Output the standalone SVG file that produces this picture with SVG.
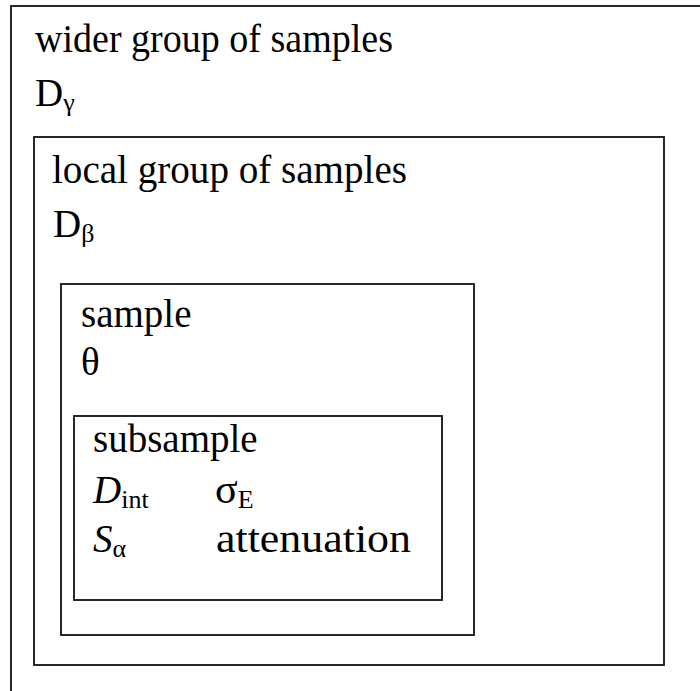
<svg xmlns="http://www.w3.org/2000/svg" width="700" height="691" viewBox="0 0 700 691">
  <style>
    .box { fill: none; stroke: #111; stroke-width: 1.8; }
    .sub { font-size: 26px; }
    .it { font-style: italic; }
    .sym { font-size: 42px; }
  </style>
  <rect width="700" height="691" fill="#fff"/>

  <g font-family="Liberation Serif, Times New Roman, serif" font-size="39" fill="#000">
    <!-- outermost level: wider group of samples -->
    <g id="wider-group">
      <rect class="box" x="11" y="6" width="700" height="700"/>
      <text x="35" y="52" textLength="358" lengthAdjust="spacingAndGlyphs">wider group of samples</text>
      <text x="35" y="106">D<tspan class="sub" dy="5">γ</tspan></text>
    </g>

    <!-- local group of samples -->
    <g id="local-group">
      <rect class="box" x="34" y="137" width="630" height="528"/>
      <text x="52" y="183" textLength="355" lengthAdjust="spacingAndGlyphs">local group of samples</text>
      <text x="53" y="237">D<tspan class="sub" dy="5">β</tspan></text>
    </g>

    <!-- sample -->
    <g id="sample">
      <rect class="box" x="61" y="284" width="413" height="351"/>
      <text x="81" y="327">sample</text>
      <text x="81" y="375">θ</text>
    </g>

    <!-- subsample -->
    <g id="subsample">
      <rect class="box" x="74" y="416" width="368" height="184"/>
      <text x="93" y="452">subsample</text>
      <text x="93" y="503"><tspan class="it">D</tspan><tspan class="sub" dy="5">int</tspan></text>
      <text x="215" y="503"><tspan class="sym">σ</tspan><tspan class="sub" dy="5">E</tspan></text>
      <text x="93" y="552"><tspan class="it">S</tspan><tspan class="sub" dy="5">α</tspan></text>
      <text x="216" y="552" textLength="195" lengthAdjust="spacingAndGlyphs">attenuation</text>
    </g>
  </g>

  <g id="connectors"/>
</svg>
